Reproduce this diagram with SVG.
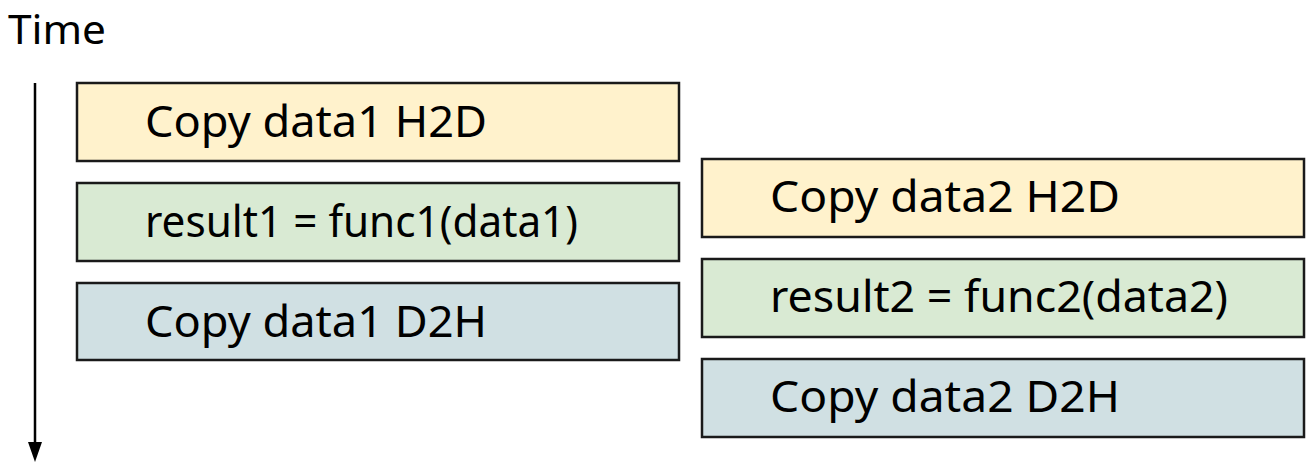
<svg xmlns="http://www.w3.org/2000/svg" width="1316" height="474" viewBox="0 0 1316 474">
<style>
.box{stroke:#1a1a1a;stroke-width:2.5}
.h2d{fill:#fff2cc}
.fn{fill:#d9ead3}
.d2h{fill:#d0e0e3}
text{font-family:"Noto Sans","DejaVu Sans",sans-serif;fill:#000;font-size:44px}
</style>
<text x="8" y="44" style="font-size:40px" textLength="98" lengthAdjust="spacingAndGlyphs">Time</text>
<g id="connectors">
<line x1="35" y1="83" x2="35" y2="446" stroke="#000" stroke-width="2.5"/>
<path d="M28,442 L42,442 L35,462 Z" fill="#000"/>
</g>
<g id="n1"><rect class="box h2d" x="77" y="83" width="602" height="78"/><text x="145" y="137" textLength="342" lengthAdjust="spacingAndGlyphs">Copy data1 H2D</text></g>
<g id="n2"><rect class="box fn" x="77" y="183" width="602" height="78"/><text x="145" y="237" textLength="433" lengthAdjust="spacingAndGlyphs">result1 = func1(data1)</text></g>
<g id="n3"><rect class="box d2h" x="77" y="283" width="602" height="77"/><text x="145" y="337" textLength="342" lengthAdjust="spacingAndGlyphs">Copy data1 D2H</text></g>
<g id="n4"><rect class="box h2d" x="702" y="159" width="602" height="78"/><text x="770" y="212" textLength="350" lengthAdjust="spacingAndGlyphs">Copy data2 H2D</text></g>
<g id="n5"><rect class="box fn" x="702" y="259" width="602" height="78"/><text x="770" y="312" textLength="458" lengthAdjust="spacingAndGlyphs">result2 = func2(data2)</text></g>
<g id="n6"><rect class="box d2h" x="702" y="359" width="602" height="78"/><text x="770" y="412" textLength="350" lengthAdjust="spacingAndGlyphs">Copy data2 D2H</text></g>
</svg>
